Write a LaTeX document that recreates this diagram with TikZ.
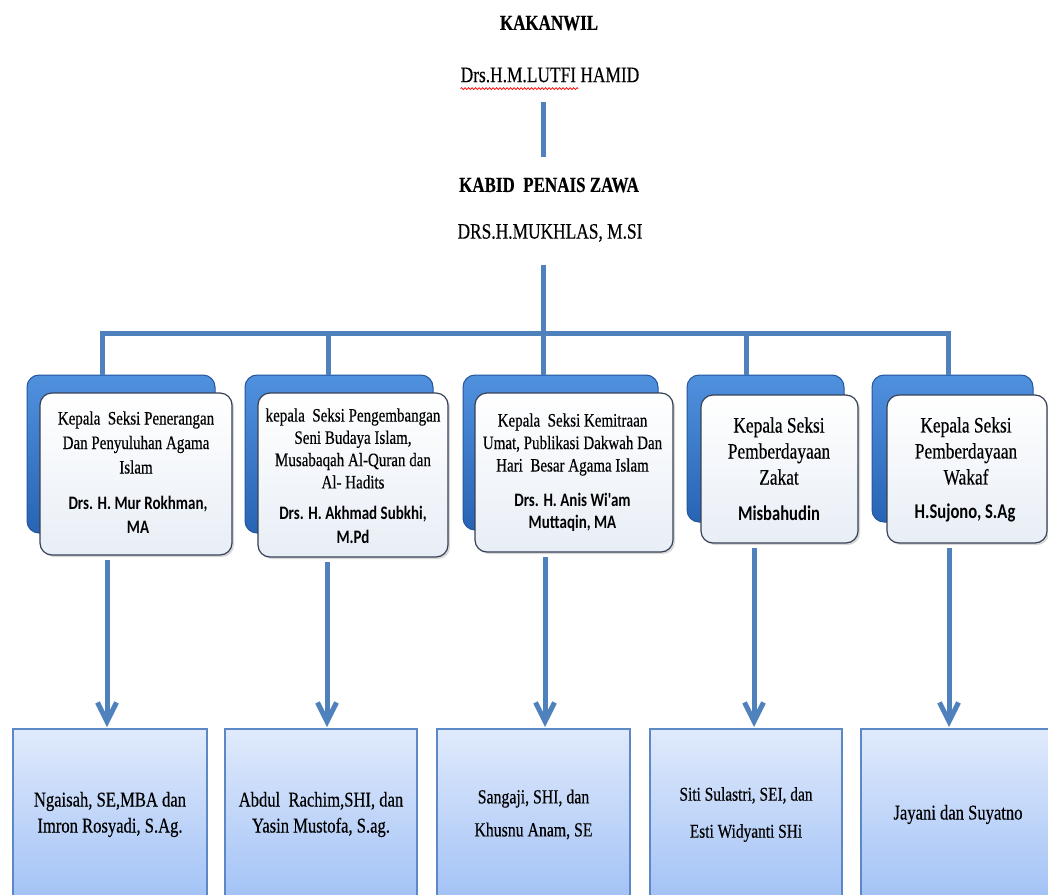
\documentclass[tikz,border=0pt]{standalone}
\usepackage{fontspec}
\usetikzlibrary{arrows.meta,shadows,decorations.pathmorphing,calc}
\newfontfamily\srf[FakeStretch=0.79,FakeBold=0.35]{Liberation Serif}
\newfontfamily\snf[FakeStretch=0.79]{Carlito}
\definecolor{lineblue}{RGB}{79,129,189}
\definecolor{backtop}{RGB}{80,145,222}
\definecolor{backbot}{RGB}{40,100,180}
\definecolor{backedge}{RGB}{36,84,156}
\definecolor{frontedge}{RGB}{55,65,85}
\definecolor{fronttint}{RGB}{232,238,246}
\definecolor{leaftop}{RGB}{224,234,252}
\definecolor{leafbot}{RGB}{162,194,246}
\definecolor{leafedge}{RGB}{92,136,200}
\tikzset{
  conn/.style={draw=lineblue, line width=5pt},
  arr/.style={conn, -{Straight Barb[length=19pt,width=19pt]}},
  backbox/.style={rectangle, rounded corners=12pt, top color=backtop, bottom color=backbot,
    draw=backedge, line width=1pt, inner sep=0pt},
  frontbox/.style={rectangle, rounded corners=12pt, top color=white, bottom color=fronttint,
    draw=frontedge, line width=1.2pt, inner sep=0pt,
    drop shadow={shadow xshift=2pt, shadow yshift=-2pt, opacity=0.3}},
  leaf/.style={rectangle, top color=leaftop, bottom color=leafbot, draw=leafedge,
    line width=1.2pt, inner sep=0pt, align=center, minimum height=171pt},
  ttl/.style={inner sep=0pt, align=center},
  topt/.style={inner sep=0pt, align=center}
}
\begin{document}
\begin{tikzpicture}[x=1pt,y=-1pt]
\useasboundingbox (0,0) rectangle (1048,894);
\clip (0,0) rectangle (1048,894);
\fill[white] (0,0) rectangle (1048,894);

% top texts
\node[topt, font=\srf\bfseries\fontsize{21.5}{24}\selectfont] (kk) at (549,23) {KAKANWIL};
\node[topt, font=\srf\fontsize{22}{24}\selectfont] (lh) at (550,75) {Drs.H.M.LUTFI HAMID};
\draw[red, line width=0.7pt, decorate, decoration={snake, amplitude=1pt, segment length=3.5pt}]
  (lh.south west) ++(0,6) coordinate (sq1) -- ++(118,0) coordinate (sq2);
\node[topt, font=\srf\bfseries\fontsize{21.5}{24}\selectfont] (kb) at (549,185) {KABID\ \ PENAIS ZAWA};
\node[topt, font=\srf\fontsize{22}{24}\selectfont] (dm) at (550,233) {DRS.H.MUKHLAS, M.SI};

\coordinate (v1) at (543,102);
\coordinate (v2) at (543,157);
\coordinate (v3) at (543,265);
\draw[conn] (v1) -- (v2);

% back boxes
\node[backbox, minimum width=188pt, minimum height=158pt] (bk1) at (121,454) {};
\node[backbox, minimum width=188pt, minimum height=158pt] (bk2) at (339,454) {};
\node[backbox, minimum width=195pt, minimum height=155pt] (bk3) at (560.5,452.5) {};
\node[backbox, minimum width=157pt, minimum height=147pt] (bk4) at (765.5,448.5) {};
\node[backbox, minimum width=161pt, minimum height=147pt] (bk5) at (952.5,448.5) {};

% bus
\coordinate (j1) at (102,333);
\coordinate (j2) at (328,333);
\coordinate (j3) at (543,333);
\coordinate (j4) at (746,333);
\coordinate (j5) at (948,333);
\draw[conn] (j1 |- bk1.north) -- (j1) -- (j5) -- (j5 |- bk5.north);
\draw[conn] (v3) -- (j3 |- bk3.north);
\draw[conn] (j2) -- (j2 |- bk2.north);
\draw[conn] (j4) -- (j4 |- bk4.north);

% front boxes
\node[frontbox, minimum width=192pt, minimum height=162pt] (f1) at (136,474) {};
\node[frontbox, minimum width=190pt, minimum height=164pt] (f2) at (353,475) {};
\node[frontbox, minimum width=198pt, minimum height=159pt] (f3) at (574,472.5) {};
\node[frontbox, minimum width=157pt, minimum height=148pt] (f4) at (779.5,469) {};
\node[frontbox, minimum width=160pt, minimum height=148pt] (f5) at (967,469) {};

% titles
\node[ttl, font=\srf\fontsize{19}{24.5}\selectfont] (t1) at (136,442.5)
  {Kepala\ \ Seksi Penerangan\\Dan Penyuluhan Agama\\Islam};
\node[ttl, font=\snf\bfseries\fontsize{19}{24}\selectfont] (n1) at (138,515)
  {Drs. H. Mur Rokhman,\\MA};
\node[ttl, font=\srf\fontsize{19}{22.3}\selectfont] (t2) at (353,448.5)
  {kepala\ \ Seksi Pengembangan\\Seni Budaya Islam,\\Musabaqah Al-Quran dan\\Al- Hadits};
\node[ttl, font=\snf\bfseries\fontsize{19}{24}\selectfont] (n2) at (353,525)
  {Drs. H. Akhmad Subkhi,\\M.Pd};
\node[ttl, font=\srf\fontsize{19}{22.5}\selectfont] (t3) at (572.5,444.5)
  {Kepala\ \ Seksi Kemitraan\\Umat, Publikasi Dakwah Dan\\Hari\ \ Besar Agama Islam};
\node[ttl, font=\snf\bfseries\fontsize{19}{21.5}\selectfont] (n3) at (572.5,512.5)
  {Drs. H. Anis Wi'am\\Muttaqin, MA};
\node[ttl, font=\srf\fontsize{22}{26}\selectfont] (t4) at (779,451)
  {Kepala Seksi\\Pemberdayaan\\Zakat};
\node[ttl, font=\snf\bfseries\fontsize{21}{24}\selectfont] (n4) at (779,513) {Misbahudin};
\node[ttl, font=\srf\fontsize{22}{26}\selectfont] (t5) at (966,451)
  {Kepala Seksi\\Pemberdayaan\\Wakaf};
\node[ttl, font=\snf\bfseries\fontsize{21}{24}\selectfont] (n5) at (965,513) {H.Sujono, S.Ag};

% bottom boxes
\node[leaf, minimum width=194pt, font=\srf\fontsize{21}{26}\selectfont] (b1) at (110,814.5)
  {Ngaisah, SE,MBA dan\\Imron Rosyadi, S.Ag.};
\node[leaf, minimum width=192pt, font=\srf\fontsize{21}{26}\selectfont] (b2) at (321,814.5)
  {Abdul\ \ Rachim,SHI, dan\\Yasin Mustofa, S.ag.};
\node[leaf, minimum width=193pt, font=\srf\fontsize{20}{24}\selectfont] (b3) at (533.5,814.5)
  {Sangaji, SHI, dan\\[9pt]Khusnu Anam, SE};
\node[leaf, minimum width=192pt, font=\srf\fontsize{19.5}{24}\selectfont] (b4) at (746,814.5)
  {Siti Sulastri, SEI, dan\\[13pt]Esti Widyanti SHi};
\node[leaf, minimum width=194pt, font=\srf\fontsize{21}{26}\selectfont] (b5) at (958,814.5)
  {Jayani dan Suyatno};

% arrows
\coordinate (a1) at (107,727);
\coordinate (a2) at (327,727);
\coordinate (a3) at (545,727);
\coordinate (a4) at (754,727);
\coordinate (a5) at (949,727);
\draw[arr] ([yshift=-4pt]f1.south -| a1) -- (a1);
\draw[arr] ([yshift=-4pt]f2.south -| a2) -- (a2);
\draw[arr] ([yshift=-4pt]f3.south -| a3) -- (a3);
\draw[arr] ([yshift=-4pt]f4.south -| a4) -- (a4);
\draw[arr] ([yshift=-4pt]f5.south -| a5) -- (a5);
\end{tikzpicture}
\end{document}
